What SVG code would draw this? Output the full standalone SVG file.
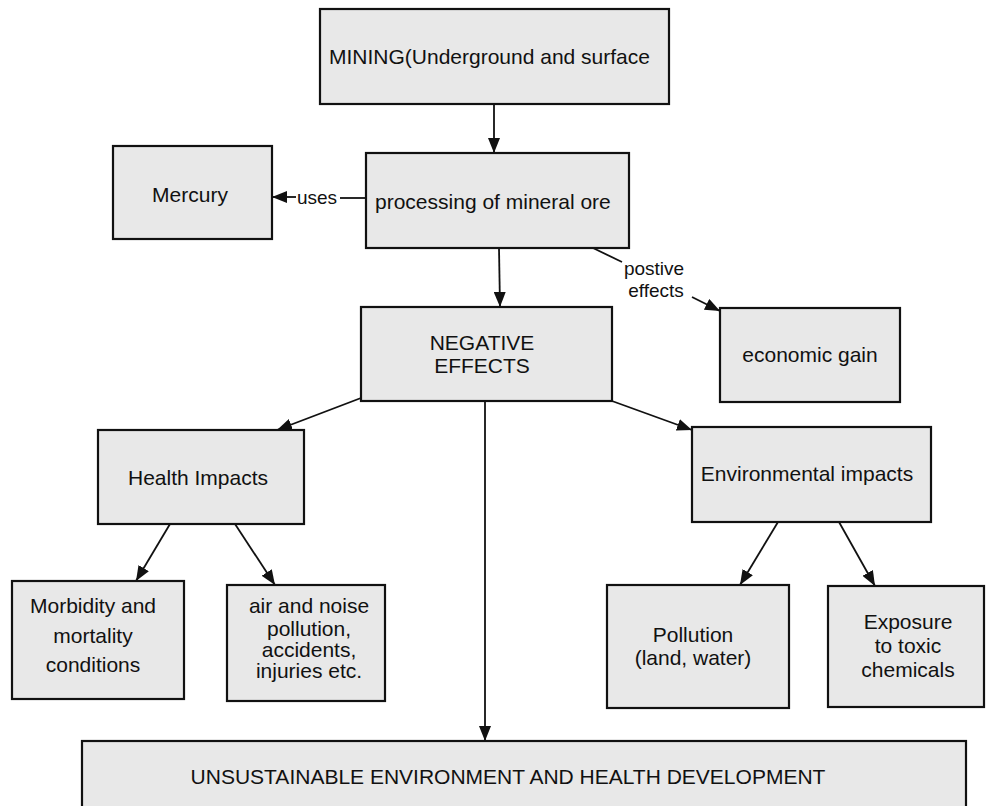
<svg xmlns="http://www.w3.org/2000/svg" width="989" height="806" viewBox="0 0 989 806">
<style>
.box{fill:#e8e8e8;stroke:#111;stroke-width:2.2}
.t{font-family:"Liberation Sans",Arial,sans-serif;font-size:21px;fill:#111}
.c{text-anchor:middle}
.lbl{font-family:"Liberation Sans",Arial,sans-serif;font-size:19px;fill:#111}
.conn path{fill:none;stroke:#111;stroke-width:1.8}
</style>
<defs>
<marker id="ah" markerUnits="userSpaceOnUse" markerWidth="15" markerHeight="12" refX="15" refY="6" orient="auto">
<path d="M0,0 L15,6 L0,12 z" fill="#111"/>
</marker>
</defs>
<rect width="989" height="806" fill="#fff"/>
<g class="conn">
<path d="M494,104 L494,153" marker-end="url(#ah)"/>
<path d="M366,198 L340,198"/>
<path d="M296,197 L272,197" marker-end="url(#ah)"/>
<path d="M499,248 L500,307" marker-end="url(#ah)"/>
<path d="M593,248 L622,262"/>
<path d="M692,297 L720,311" marker-end="url(#ah)"/>
<path d="M361,398 L277,430" marker-end="url(#ah)"/>
<path d="M612,401 L692,430" marker-end="url(#ah)"/>
<path d="M485,401 L485,741" marker-end="url(#ah)"/>
<path d="M170,524 L136,581" marker-end="url(#ah)"/>
<path d="M235,524 L275,585" marker-end="url(#ah)"/>
<path d="M778,522 L740,585" marker-end="url(#ah)"/>
<path d="M839,522 L875,586" marker-end="url(#ah)"/>
<text class="lbl c" x="317" y="204">uses</text>
<text class="lbl c" x="654" y="275">postive</text>
<text class="lbl c" x="656" y="297">effects</text>
</g>
<g id="mining">
<rect class="box" x="320" y="9" width="349" height="95"/>
<text class="t" x="329" y="64">MINING(Underground and surface</text>
</g>
<g id="processing">
<rect class="box" x="366" y="153" width="263" height="95"/>
<text class="t" x="375" y="209">processing of mineral ore</text>
</g>
<g id="mercury">
<rect class="box" x="113" y="146" width="159" height="93"/>
<text class="t c" x="190" y="202">Mercury</text>
</g>
<g id="negative">
<rect class="box" x="361" y="307" width="251" height="94"/>
<text class="t c" x="482" y="350">NEGATIVE</text>
<text class="t c" x="482" y="373">EFFECTS</text>
</g>
<g id="economic">
<rect class="box" x="720" y="308" width="180" height="94"/>
<text class="t c" x="810" y="362">economic gain</text>
</g>
<g id="health">
<rect class="box" x="98" y="430" width="206" height="94"/>
<text class="t c" x="198" y="485">Health Impacts</text>
</g>
<g id="environmental">
<rect class="box" x="692" y="427" width="239" height="95"/>
<text class="t c" x="807" y="481">Environmental impacts</text>
</g>
<g id="morbidity">
<rect class="box" x="12" y="581" width="172" height="118"/>
<text class="t c" x="93" y="613">Morbidity and</text>
<text class="t c" x="93" y="643">mortality</text>
<text class="t c" x="93" y="672">conditions</text>
</g>
<g id="air">
<rect class="box" x="227" y="585" width="158" height="116"/>
<text class="t c" x="309" y="613">air and noise</text>
<text class="t c" x="309" y="636">pollution,</text>
<text class="t c" x="309" y="657">accidents,</text>
<text class="t c" x="309" y="678">injuries etc.</text>
</g>
<g id="pollution">
<rect class="box" x="607" y="585" width="182" height="123"/>
<text class="t c" x="693" y="642">Pollution</text>
<text class="t c" x="693" y="665">(land, water)</text>
</g>
<g id="exposure">
<rect class="box" x="828" y="586" width="156" height="121"/>
<text class="t c" x="908" y="629">Exposure</text>
<text class="t c" x="908" y="653">to toxic</text>
<text class="t c" x="908" y="677">chemicals</text>
</g>
<g id="unsustainable">
<rect class="box" x="82" y="741" width="884" height="70"/>
<text class="t c" x="508" y="784">UNSUSTAINABLE ENVIRONMENT AND HEALTH DEVELOPMENT</text>
</g>
</svg>
